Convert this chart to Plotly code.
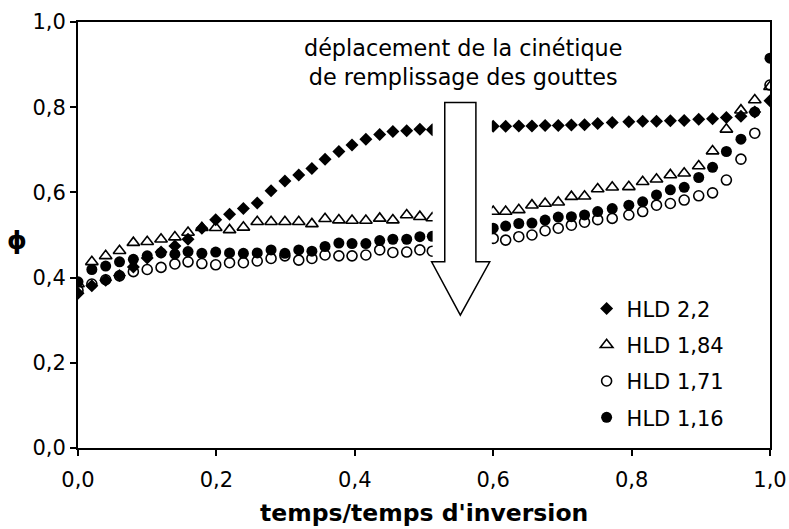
import plotly.graph_objects as go

# time / inversion time (visible sampling points; those behind the arrow are hidden)
t_left = [0.000, 0.020, 0.040, 0.060, 0.080, 0.100, 0.120, 0.140, 0.159, 0.179, 0.199,
          0.219, 0.239, 0.259, 0.279, 0.299, 0.319, 0.338, 0.357, 0.377, 0.396, 0.416,
          0.436, 0.455, 0.475, 0.494, 0.512]
t_right = [0.600, 0.618, 0.637, 0.656, 0.675, 0.694, 0.713, 0.732, 0.751, 0.772, 0.796,
           0.816, 0.836, 0.856, 0.876, 0.897, 0.917, 0.937, 0.958, 0.978, 1.000]
t = t_left + t_right

hld_22 = [0.363, 0.381, 0.394, 0.405, 0.425, 0.446, 0.460, 0.474, 0.490, 0.516, 0.536,
          0.549, 0.562, 0.575, 0.604, 0.627, 0.641, 0.656, 0.678, 0.696, 0.711, 0.725,
          0.736, 0.743, 0.745, 0.748, 0.747,
          0.755, 0.755, 0.756, 0.756, 0.757, 0.757, 0.758, 0.759, 0.762, 0.764, 0.766,
          0.767, 0.767, 0.768, 0.769, 0.772, 0.773, 0.776, 0.779, 0.789, 0.815]
hld_184 = [0.385, 0.437, 0.451, 0.463, 0.482, 0.484, 0.490, 0.495, 0.506, 0.517, 0.517,
           0.512, 0.518, 0.531, 0.531, 0.531, 0.531, 0.526, 0.538, 0.535, 0.534, 0.534,
           0.539, 0.535, 0.547, 0.543, 0.540,
           0.555, 0.555, 0.559, 0.570, 0.574, 0.577, 0.590, 0.591, 0.608, 0.612, 0.613,
           0.625, 0.631, 0.641, 0.645, 0.662, 0.697, 0.748, 0.793, 0.817, 0.848]
hld_171 = [0.370, 0.385, 0.395, 0.404, 0.414, 0.419, 0.424, 0.432, 0.437, 0.433, 0.430,
           0.435, 0.435, 0.439, 0.445, 0.451, 0.441, 0.445, 0.453, 0.451, 0.451, 0.453,
           0.465, 0.459, 0.460, 0.465, 0.462,
           0.492, 0.488, 0.496, 0.500, 0.510, 0.516, 0.523, 0.530, 0.536, 0.539, 0.547,
           0.555, 0.570, 0.574, 0.582, 0.592, 0.599, 0.629, 0.678, 0.739, 0.852]
hld_116 = [0.390, 0.419, 0.427, 0.437, 0.443, 0.451, 0.458, 0.455, 0.461, 0.457, 0.460,
           0.458, 0.457, 0.458, 0.465, 0.457, 0.465, 0.462, 0.473, 0.481, 0.480, 0.480,
           0.487, 0.490, 0.490, 0.496, 0.497,
           0.516, 0.521, 0.527, 0.528, 0.535, 0.542, 0.543, 0.547, 0.555, 0.562, 0.570,
           0.578, 0.594, 0.606, 0.612, 0.635, 0.659, 0.696, 0.725, 0.789, 0.915]

series_names = ["HLD 2,2", "HLD 1,84", "HLD 1,71", "HLD 1,16"]
x_ticks = [0.0, 0.2, 0.4, 0.6, 0.8, 1.0]
y_ticks = [0.0, 0.2, 0.4, 0.6, 0.8, 1.0]

FONT = "DejaVu Sans"

fig = go.Figure()
fig.add_trace(go.Scatter(x=t, y=hld_22, mode="markers", name=series_names[0], legendgroup="a",
                         marker=dict(symbol="diamond", size=10, color="black")))
fig.add_trace(go.Scatter(x=t, y=hld_184, mode="markers", name=series_names[1], legendgroup="b",
                         marker=dict(symbol="triangle-up-open", size=11, color="black",
                                     line=dict(width=1.6, color="black"))))
fig.add_trace(go.Scatter(x=t, y=hld_171, mode="markers", name=series_names[2], legendgroup="c",
                         marker=dict(symbol="circle-open", size=10, color="black",
                                     line=dict(width=1.6, color="black"))))
fig.add_trace(go.Scatter(x=t, y=hld_116, mode="markers", name=series_names[3], legendgroup="d",
                         marker=dict(symbol="circle", size=11, color="black")))

# white box behind the arrow + arrow outline
fig.add_shape(type="rect", xref="x", yref="y", x0=0.5125, x1=0.598, y0=0.437, y1=0.812,
              fillcolor="white", line=dict(width=0), layer="above")
ax_l, ax_r, hx_l, hx_r, tip_x = 0.530, 0.575, 0.511, 0.595, 0.5525
y_top, y_neck, y_tip = 0.811, 0.437, 0.312
arrow_path = (f"M {ax_l},{y_top} L {ax_r},{y_top} L {ax_r},{y_neck} L {hx_r},{y_neck} "
              f"L {tip_x},{y_tip} L {hx_l},{y_neck} L {ax_l},{y_neck} Z")
fig.add_shape(type="path", xref="x", yref="y", path=arrow_path, fillcolor="white",
              line=dict(color="black", width=1.5), layer="above")

fig.add_annotation(xref="x", yref="y", x=0.557, y=0.906,
                   text="déplacement de la cinétique<br>de remplissage des gouttes",
                   showarrow=False, align="center", font=dict(family=FONT, size=22.3, color="black"))
fig.add_annotation(xref="paper", yref="paper", x=-0.088, xanchor="center", y=0.487,
                   text="<b>ϕ</b>", showarrow=False, font=dict(family=FONT, size=25, color="black"))
fig.add_annotation(xref="paper", yref="paper", x=0.5, y=-0.1526, yanchor="middle",
                   text="<b>temps/temps d'inversion</b>", showarrow=False,
                   font=dict(family=FONT, size=23.5, color="black"))

axis_common = dict(range=[0, 1], showgrid=False, zeroline=False, showline=True, linewidth=2,
                   linecolor="black", mirror=True, ticks="outside", ticklen=6, tickwidth=2,
                   tickcolor="black", tickformat=".1f", tickfont=dict(family=FONT, size=21),
                   automargin=False)
fig.update_xaxes(**axis_common, tickvals=x_ticks, ticklabelstandoff=6)
fig.update_yaxes(**axis_common, tickvals=y_ticks)

fig.update_layout(width=789, height=529, margin=dict(l=78, r=19, t=22, b=81),
                  plot_bgcolor="white", paper_bgcolor="white", separators=", ",
                  font=dict(family=FONT, size=21, color="black"),
                  showlegend=True,
                  legend=dict(x=0.735, y=0.375, xanchor="left", yanchor="top",
                              bgcolor="rgba(0,0,0,0)", borderwidth=0, tracegroupgap=6,
                              font=dict(family=FONT, size=21)))

# remove the default 8 px page margin so the 789x529 figure fills the window exactly
fig.write_html("out.html", config={"displayModeBar": False},
               post_script="document.body.style.margin='0';document.body.style.overflow='hidden';")
